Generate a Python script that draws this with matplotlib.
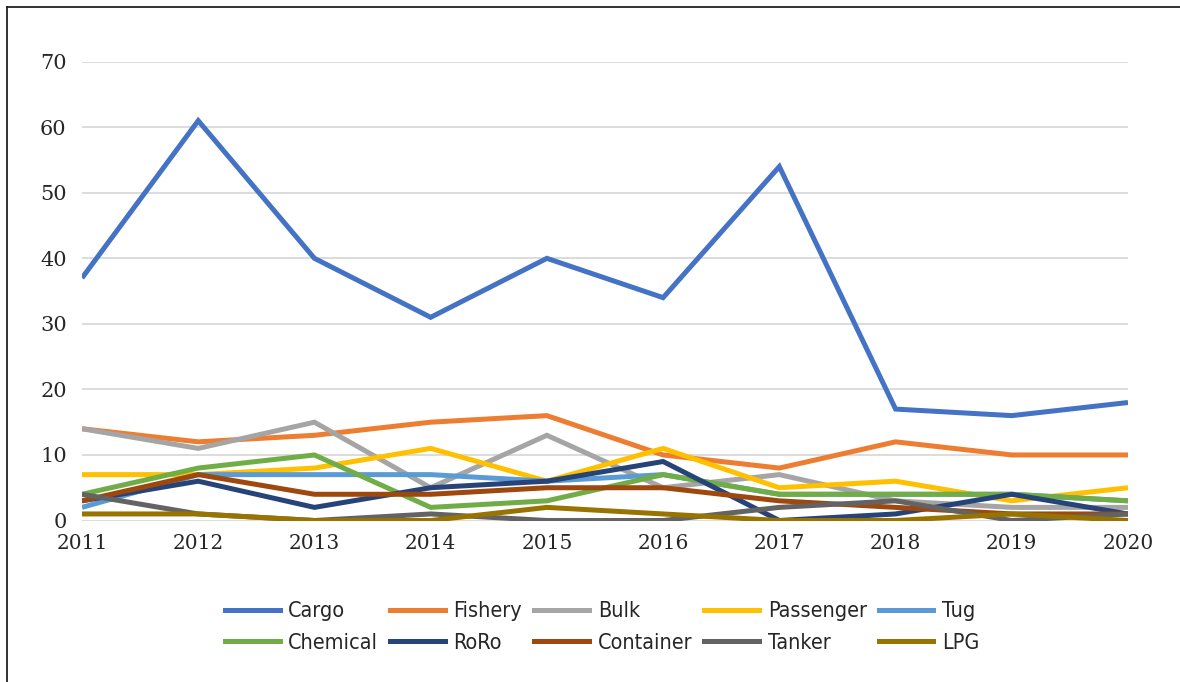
import matplotlib
matplotlib.use("Agg")
import matplotlib.pyplot as plt
from matplotlib.lines import Line2D
from matplotlib import font_manager
from matplotlib.font_manager import FontProperties

years = [2011, 2012, 2013, 2014, 2015, 2016, 2017, 2018, 2019, 2020]

cargo     = [37, 61, 40, 31, 40, 34, 54, 17, 16, 18]
fishery   = [14, 12, 13, 15, 16, 10, 8, 12, 10, 10]
bulk      = [14, 11, 15, 5, 13, 5, 7, 3, 2, 2]
passenger = [7, 7, 8, 11, 6, 11, 5, 6, 3, 5]
tug       = [2, 7, 7, 7, 6, 7, 4, 4, 4, 3]
chemical  = [4, 8, 10, 2, 3, 7, 4, 4, 4, 3]
roro      = [3, 6, 2, 5, 6, 9, 0, 1, 4, 1]
container = [3, 7, 4, 4, 5, 5, 3, 2, 1, 1]
tanker    = [4, 1, 0, 1, 0, 0, 2, 3, 0, 1]
lpg       = [1, 1, 0, 0, 2, 1, 0, 0, 1, 0]

series_names = ["Cargo", "Fishery", "Bulk", "Passenger", "Tug",
                "Chemical", "RoRo", "Container", "Tanker", "LPG"]
series_values = [cargo, fishery, bulk, passenger, tug,
                 chemical, roro, container, tanker, lpg]
colors = ["#4472C4", "#ED7D31", "#A5A5A5", "#FFC000", "#5B9BD5",
          "#70AD47", "#264478", "#9E480E", "#636363", "#997300"]

yticks = [0, 10, 20, 30, 40, 50, 60, 70]

serif_font = "DejaVu Serif"
# condensed sans for legend if available
cond_file = None
for f in font_manager.fontManager.ttflist:
    if f.name == "DejaVu Sans" and "condensed" in str(f.stretch).lower() and f.weight in (400, "normal") and f.style == "normal":
        cond_file = f.fname
        break
if cond_file is None:
    for f in font_manager.fontManager.ttflist:
        if "Condensed" in f.fname and f.style == "normal" and "Bold" not in f.fname and "Oblique" not in f.fname:
            cond_file = f.fname
            break
if cond_file:
    legend_prop = FontProperties(fname=cond_file, size=15.5)
else:
    legend_prop = FontProperties(family="Roboto", size=14)

W, H = 1180, 682
fig = plt.figure(figsize=(W / 100, H / 100), dpi=100)
fig.patch.set_facecolor("white")

ax = fig.add_axes([82 / W, 1 - 520.5 / H, (1128 - 82) / W, (520.5 - 61.7) / H])

for name, vals, c in zip(series_names, series_values, colors):
    ax.plot(years, vals, color=c, lw=3.6, label=name, solid_capstyle="butt",
            solid_joinstyle="miter", zorder=3)

ax.set_xlim(years[0], years[-1])
ax.set_ylim(0, 70)
ax.set_yticks(yticks)
ax.set_xticks(years)
ax.set_xticklabels([str(y) for y in years], fontfamily=serif_font, fontsize=14.5)
ax.set_yticklabels([str(v) for v in yticks], fontfamily=serif_font, fontsize=15)
ax.grid(axis="y", color="#D9D9D9", lw=1.3, zorder=0)
for s in ax.spines.values():
    s.set_visible(False)
ax.tick_params(axis="both", length=0, colors="#262626")
ax.tick_params(axis="y", pad=11)
ax.tick_params(axis="x", pad=10)

# legend in row-major order
order = [0, 5, 1, 6, 2, 7, 3, 8, 4, 9]
handles = [Line2D([0], [0], color=colors[i], lw=3.6) for i in order]
labels = [series_names[i] for i in order]
leg = fig.legend(handles, labels, ncol=5, loc="center",
                 bbox_to_anchor=(602 / W, 1 - 627 / H), frameon=False,
                 prop=legend_prop,
                 handlelength=2.55, handletextpad=0.4, columnspacing=0.55,
                 labelspacing=0.55)
for t in leg.get_texts():
    t.set_color("#262626")

# figure border (left and top)
fig.add_artist(Line2D([7 / W, 7 / W], [0, 1 - 6.5 / H], transform=fig.transFigure,
                      color="#222222", lw=1.3))
fig.add_artist(Line2D([7 / W, 1.01], [1 - 6.5 / H, 1 - 6.5 / H], transform=fig.transFigure,
                      color="#222222", lw=1.3))

fig.savefig("out.png", dpi=100, facecolor="white")
